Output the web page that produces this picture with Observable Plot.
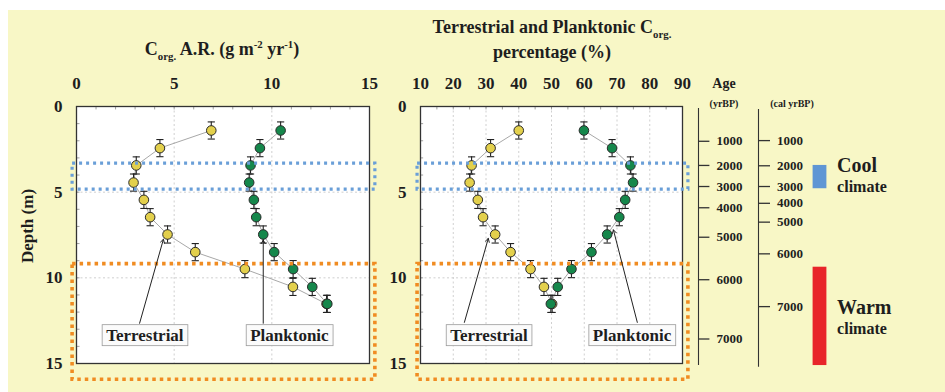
<!DOCTYPE html>
<html>
<head>
<meta charset="utf-8">
<script src="https://cdn.jsdelivr.net/npm/d3@7"></script>
<script src="https://cdn.jsdelivr.net/npm/@observablehq/plot@0.6"></script>
<style>
  html, body { margin: 0; padding: 0; background: #fff; }
  #wrap { position: relative; width: 945px; height: 392px; overflow: hidden; background: #fff;
          font-family: "Liberation Serif", "DejaVu Serif", serif; font-weight: bold; color: #1e1e1e; }
  #paper { position: absolute; left: 8px; top: 10px; right: 0; bottom: 0; background: #f8f7c6; }
  #wrap svg { position: absolute; left: 0; top: 0; overflow: visible; }
  #wrap svg text { font-family: "Liberation Serif", "DejaVu Serif", serif !important; font-weight: bold; }
  .t { position: absolute; text-align: center; white-space: nowrap; line-height: 20px; }
  .t sub, .t sup { font-size: 0.6em; line-height: 0; }
</style>
</head>
<body>
<div id="wrap">
  <div id="paper"></div>
</div>
<script>
// ---------- data ----------
const depth = [1.4, 2.43, 3.44, 4.44, 5.45, 6.46, 7.47, 8.5, 9.49, 10.53, 11.52];
const depthErr = 0.5;
const arTerrestrial = [6.9, 4.27, 3.06, 2.92, 3.45, 3.77, 4.66, 6.08, 8.62, 11.08, 12.8];
const arPlanktonic  = [10.45, 9.39, 8.91, 8.84, 9.08, 9.2, 9.56, 10.12, 11.09, 12.07, 12.84];
const pctTerrestrial = [40.0, 31.4, 25.6, 25.0, 27.5, 29.1, 32.8, 37.5, 43.6, 47.7, 50.2];
const pctPlanktonic  = [59.9, 68.5, 74.1, 74.9, 72.5, 70.7, 67.0, 62.2, 56.1, 51.9, 49.8];

const arTicks = [0, 5, 10, 15];
const pctTicks = [10, 20, 30, 40, 50, 60, 70, 80, 90];
const depthTicks = [0, 5, 10, 15];

const ageYrBP = ["1000", "2000", "3000", "4000", "5000", "6000", "7000"];
const ageYrBPDepth = [2.03, 3.44, 4.67, 5.91, 7.63, 10.11, 13.57];
const ageCal = ["1000", "2000", "3000", "4000", "5000", "6000", "7000"];
const ageCalDepth = [1.99, 3.46, 4.67, 5.65, 6.75, 8.6, 11.68];

const coolDepth = [3.44, 4.8];
const warmDepth = [9.38, 15.12];

// highlighted depth bands (dotted boxes)
const coolBand = [3.33, 4.85];
const warmBand = [9.2, 15.95];

const yellow = "#e3d04c", green = "#15874b";
const serif = '"Liberation Serif", "DejaVu Serif", serif';

const rows = (xs) => xs.map((v, i) => ({v, depth: depth[i]}));
const capSymbol = {draw(ctx, size) { const w = Math.sqrt(size / Math.PI); ctx.moveTo(-w, 0); ctx.lineTo(w, 0); }};

function series(data, fill) {
  return [
    Plot.line(data, {x: "v", y: "depth", stroke: "#a8a8a8", strokeWidth: 1}),
    Plot.ruleX(data, {x: "v", y1: d => d.depth - depthErr, y2: d => d.depth + depthErr, stroke: "#222", strokeWidth: 1.1}),
    Plot.dot(data, {x: "v", y: d => d.depth - depthErr, symbol: capSymbol, r: 3.6, stroke: "#222", strokeWidth: 1.1}),
    Plot.dot(data, {x: "v", y: d => d.depth + depthErr, symbol: capSymbol, r: 3.6, stroke: "#222", strokeWidth: 1.1}),
    Plot.dot(data, {x: "v", y: "depth", r: 4.8, fill, stroke: "#2a2a2a", strokeWidth: 1})
  ];
}

function panel({xDomain, xTicks, xGrid, xMinor, marginLeft, marginRight, terr, plank, bandX, labels}) {
  const T = rows(terr), P = rows(plank);
  return Plot.plot({
    width: 945, height: 392,
    marginLeft, marginRight, marginTop: 106, marginBottom: 29,
    style: {background: "transparent", fontFamily: serif, fontSize: "17px", fontWeight: "bold", color: "#1e1e1e", overflow: "visible"},
    x: {domain: xDomain},
    y: {domain: [0, 15], reverse: true},
    marks: [
      Plot.frame({fill: "white", stroke: "none"}),
      Plot.ruleX(xGrid, {stroke: "#c4c4c4", strokeDasharray: "2,2.5", strokeWidth: 0.8}),
      Plot.ruleY([5, 10], {stroke: "#c4c4c4", strokeDasharray: "2,2.5", strokeWidth: 0.8}),
      Plot.ruleX(xMinor, {y1: 0, y2: 0.2, stroke: "#888", strokeWidth: 0.8}),
      Plot.ruleY(d3.range(1, 15), {x1: xDomain[0], x2: xDomain[0] + (xDomain[1] - xDomain[0]) * 0.012, stroke: "#888", strokeWidth: 0.8}),
      Plot.frame({stroke: "#333", strokeWidth: 1.3}),
      ...series(T, yellow),
      ...series(P, green),
      // dotted highlight bands
      Plot.rect([coolBand], {x1: bandX[0], x2: bandX[1], y1: d => d[0], y2: d => d[1], fill: "none", stroke: "#6a9fd8", strokeWidth: 3.2, strokeDasharray: "3,4"}),
      Plot.rect([warmBand], {x1: bandX[0], x2: bandX[1], y1: d => d[0], y2: d => d[1], fill: "none", stroke: "#f08c22", strokeWidth: 3.6, strokeDasharray: "3.5,4"}),
      // annotation arrows
      Plot.arrow(labels, {x1: "ax1", y1: "ay1", x2: "ax2", y2: "ay2", stroke: "#222", strokeWidth: 1, headLength: 6}),
      Plot.text(labels, {x: "lx", y: "ly", text: "name", fontSize: 17, fill: "#1e1e1e", fontFamily: serif}),
      Plot.axisX({anchor: "top", ticks: xTicks, tickSize: 0, tickPadding: 18, label: null, fontFamily: serif}),
      Plot.axisY({anchor: "left", ticks: depthTicks, tickSize: 0, tickPadding: 14, label: null, fontFamily: serif})
    ]
  });
}

const labelNames = ["Terrestrial", "Planktonic"];
const leftLabels = [
  {name: labelNames[0], lx: 3.5, ly: 13.35, ax1: 3.23, ay1: 12.65, ax2: 4.45, ay2: 7.75},
  {name: labelNames[1], lx: 10.9, ly: 13.35, ax1: 9.56, ay1: 12.65, ax2: 9.56, ay2: 7.8}
];
const rightLabels = [
  {name: labelNames[0], lx: 30.9, ly: 13.35, ax1: 23.4, ay1: 12.6, ax2: 30.7, ay2: 7.7},
  {name: labelNames[1], lx: 74.6, ly: 13.35, ax1: 76.2, ay1: 12.6, ax2: 68.9, ay2: 7.2}
];

const left = panel({
  xDomain: [0, 15], xTicks: arTicks, xGrid: [5, 10], xMinor: d3.range(1, 15),
  marginLeft: 76, marginRight: 945 - 369, terr: arTerrestrial, plank: arPlanktonic,
  bandX: [-0.2, 15.3], labels: leftLabels
});
const right = panel({
  xDomain: [10, 90], xTicks: pctTicks, xGrid: d3.range(20, 90, 10), xMinor: d3.range(15, 90, 5),
  marginLeft: 420, marginRight: 945 - 682, terr: pctTerrestrial, plank: pctPlanktonic,
  bandX: [9.1, 91.8], labels: rightLabels
});

const yr = ageYrBP.map((a, i) => ({a, d: ageYrBPDepth[i]}));
const cal = ageCal.map((a, i) => ({a, d: ageCalDepth[i]}));
const climate = [
  {y1: coolDepth[0], y2: coolDepth[1], fill: "#5f96d4"},
  {y1: warmDepth[0], y2: warmDepth[1], fill: "#e8252a"}
];
const climateText = [
  {t: "Cool", d: 3.44, s: 20}, {t: "climate", d: 4.72, s: 16},
  {t: "Warm", d: 11.72, s: 20}, {t: "climate", d: 12.96, s: 16}
];

const age = Plot.plot({
  width: 945, height: 392,
  marginLeft: 698, marginRight: 945 - 758, marginTop: 106, marginBottom: 29,
  style: {background: "transparent", fontFamily: serif, fontSize: "13px", fontWeight: "bold", color: "#1e1e1e", overflow: "visible"},
  x: {domain: [0, 1], axis: null},
  y: {domain: [0, 15], reverse: true, axis: null},
  marks: [
    Plot.ruleX([0], {y1: 0.12, y2: 15.12, stroke: "#333", strokeWidth: 1.1}),
    Plot.ruleX([1], {y1: 0.17, y2: 15.22, stroke: "#333", strokeWidth: 1.1}),
    Plot.ruleY(yr, {y: "d", x1: 0, x2: 0.19, stroke: "#333", strokeWidth: 1.3}),
    Plot.text(yr, {y: "d", x: 0.3, text: "a", textAnchor: "start", fill: "#1e1e1e", fontFamily: serif}),
    Plot.ruleY(cal, {y: "d", x1: 1, x2: 1.2, stroke: "#333", strokeWidth: 1.3}),
    Plot.text(cal, {y: "d", x: 1.31, text: "a", textAnchor: "start", fill: "#1e1e1e", fontFamily: serif}),
    Plot.rect(climate, {x1: 1.91, x2: 2.14, y1: "y1", y2: "y2", fill: "fill"}),
    Plot.text(climateText, {x: 2.31, y: "d", text: "t", fontSize: "s", textAnchor: "start", fill: "#1e1e1e", fontFamily: serif})
  ]
});

const wrap = document.getElementById("wrap");
wrap.appendChild(left);
wrap.appendChild(right);
wrap.appendChild(age);

// white boxes behind the annotation labels
for (const svg of [left, right]) {
  svg.querySelectorAll("text").forEach(t => {
    if (!labelNames.includes(t.textContent.trim())) return;
    const b = t.getBBox();
    const r = document.createElementNS("http://www.w3.org/2000/svg", "rect");
    r.setAttribute("x", b.x - 4); r.setAttribute("y", b.y - 1);
    r.setAttribute("width", b.width + 8); r.setAttribute("height", b.height + 2);
    r.setAttribute("fill", "#fbfbfb"); r.setAttribute("stroke", "#9a9a9a"); r.setAttribute("stroke-width", "0.8");
    const tr = t.getAttribute("transform");
    if (tr) r.setAttribute("transform", tr);
    t.parentNode.insertBefore(r, t);
  });
}

// titles and headers (HTML text)
function addText(html, cx, cy, size, w = 400) {
  const d = document.createElement("div");
  d.className = "t";
  d.style.left = (cx - w / 2) + "px";
  d.style.width = w + "px";
  d.style.top = (cy - 10) + "px";
  d.style.fontSize = size + "px";
  d.innerHTML = html;
  wrap.appendChild(d);
}
addText("C<sub>org.</sub> A.R. (g m<sup>-2</sup> yr<sup>-1</sup>)", 222, 49, 18);
addText("Terrestrial and Planktonic C<sub>org.</sub>", 552, 27, 18);
addText("percentage (%)", 552, 52, 18);
addText("Age", 724, 84, 14, 100);
addText("(yrBP)", 724, 104, 10, 100);
addText("(cal yrBP)", 792, 104, 10, 100);

const dl = document.createElement("div");
dl.className = "t";
dl.style.left = "-22px"; dl.style.top = "216px"; dl.style.width = "100px";
dl.style.fontSize = "17px";
dl.style.transform = "rotate(-90deg)";
dl.textContent = "Depth (m)";
wrap.appendChild(dl);
</script>
</body>
</html>
